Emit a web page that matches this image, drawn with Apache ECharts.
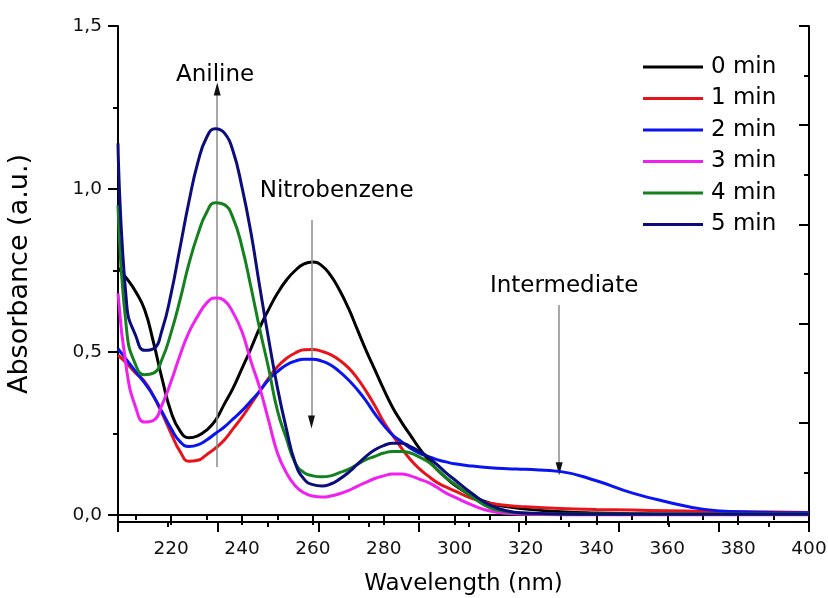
<!DOCTYPE html>
<html>
<head>
<meta charset="utf-8">
<script src="https://cdn.jsdelivr.net/npm/echarts@6/dist/echarts.min.js"></script>
<style>
  html, body { margin: 0; padding: 0; background: #fff; }
  #chart { width: 828px; height: 598px; }
</style>
</head>
<body>
<div id="chart"></div>
<script>
// wavelength grid (nm)
const wavelength = [205, 207.5, 210, 212.5, 215, 217.5, 220, 222.5, 225, 227.5,
  230, 232.5, 235, 237.5, 240, 242.5, 245, 247.5, 250, 252.5,
  255, 257.5, 260, 262.5, 265, 267.5, 270, 272.5, 275, 277.5,
  280, 282.5, 285, 287.5, 290, 292.5, 295, 297.5, 300,
  305, 310, 315, 320, 330, 340, 350, 360, 370, 380, 390, 400]

const min0 = [0.758, 0.725, 0.685, 0.63, 0.53, 0.415, 0.315, 0.258, 0.237, 0.243,
  0.26, 0.29, 0.34, 0.39, 0.45, 0.51, 0.575, 0.63, 0.68, 0.72,
  0.75, 0.77, 0.776, 0.765, 0.735, 0.69, 0.635, 0.57, 0.505, 0.445,
  0.385, 0.33, 0.285, 0.245, 0.205, 0.17, 0.14, 0.115, 0.092,
  0.058, 0.036, 0.025, 0.018, 0.01, 0.006, 0.004, 0.003, 0.003, 0.003, 0.003, 0.003]
const min1 = [0.49, 0.465, 0.435, 0.41, 0.365, 0.31, 0.25, 0.195, 0.165, 0.168,
  0.185, 0.205, 0.23, 0.265, 0.30, 0.34, 0.38, 0.42, 0.455, 0.48,
  0.497, 0.507, 0.508, 0.502, 0.492, 0.475, 0.452, 0.42, 0.38, 0.335,
  0.285, 0.245, 0.205, 0.17, 0.142, 0.12, 0.10, 0.086, 0.074,
  0.05, 0.036, 0.029, 0.025, 0.02, 0.017, 0.015, 0.013, 0.011, 0.01, 0.009, 0.008]
const min2 = [0.51, 0.475, 0.44, 0.405, 0.365, 0.315, 0.265, 0.225, 0.21, 0.215,
  0.23, 0.25, 0.27, 0.295, 0.32, 0.35, 0.38, 0.415, 0.44, 0.46,
  0.472, 0.478, 0.478, 0.472, 0.46, 0.44, 0.415, 0.385, 0.35, 0.31,
  0.275, 0.245, 0.225, 0.205, 0.19, 0.18, 0.17, 0.163, 0.157,
  0.15, 0.145, 0.142, 0.14, 0.133, 0.105, 0.068, 0.04, 0.018, 0.01, 0.008, 0.007]
const min3 = [0.68, 0.44, 0.33, 0.285, 0.29, 0.34, 0.41, 0.49, 0.56, 0.61,
  0.65, 0.666, 0.658, 0.62, 0.562, 0.472, 0.39, 0.29, 0.19, 0.13,
  0.09, 0.068, 0.058, 0.055, 0.058, 0.065, 0.075, 0.088, 0.10, 0.112,
  0.12, 0.126, 0.126, 0.12, 0.11, 0.10, 0.085, 0.068, 0.055,
  0.03, 0.012, 0.005, 0.002, 0.001, 0.001, 0.001, 0.001, 0.001, 0.001, 0.001, 0.001]
const min4 = [0.95, 0.56, 0.46, 0.43, 0.435, 0.48, 0.56, 0.66, 0.77, 0.86,
  0.928, 0.958, 0.952, 0.91, 0.822, 0.70, 0.57, 0.45, 0.32, 0.235,
  0.16, 0.13, 0.12, 0.117, 0.12, 0.13, 0.14, 0.155, 0.17, 0.18,
  0.19, 0.195, 0.195, 0.19, 0.178, 0.163, 0.14, 0.115, 0.095,
  0.055, 0.022, 0.01, 0.005, 0.003, 0.003, 0.003, 0.003, 0.003, 0.003, 0.003, 0.003]
const min5 = [1.14, 0.64, 0.55, 0.505, 0.51, 0.57, 0.68, 0.82, 0.96, 1.08,
  1.158, 1.185, 1.172, 1.115, 1.005, 0.867, 0.70, 0.54, 0.39, 0.265,
  0.16, 0.11, 0.093, 0.089, 0.095, 0.11, 0.13, 0.155, 0.18, 0.20,
  0.213, 0.22, 0.22, 0.21, 0.195, 0.178, 0.155, 0.13, 0.108,
  0.065, 0.03, 0.012, 0.006, 0.003, 0.002, 0.002, 0.002, 0.002, 0.002, 0.002, 0.002]

const seriesNames = ['0 min', '1 min', '2 min', '3 min', '4 min', '5 min']
const seriesValues = [min0, min1, min2, min3, min4, min5]
const colors = ['#000000', '#e8141c', '#0a14f0', '#f020f0', '#14801e', '#0c0c7c']

const xLabels = [220, 240, 260, 280, 300, 320, 340, 360, 380, 400]
const xMinor = [210, 230, 250, 270, 290, 310, 330, 350, 370, 390]
const yLabels = [0, 0.5, 1.0, 1.5]
const yMinor = [0.25, 0.75, 1.25]

// arrows: [wavelength, from, to]
const arrows = [[233, 0.147, 1.307], [259.6, 0.905, 0.285], [329.5, 0.644, 0.142]]
const notes = [['Aniline', 232.4, 1.35], ['Nitrobenzene', 266.7, 0.994], ['Intermediate', 330.9, 0.703]]

const font = 'DejaVu Sans'
const axisLine = { show: true, lineStyle: { color: '#000', width: 2 } }

const chart = echarts.init(document.getElementById('chart'))

const lines = seriesNames.map((name, i) => ({
  name, type: 'line', smooth: 0.5,
  showSymbol: false, symbol: 'none',
  xAxisIndex: 0, yAxisIndex: 0,
  lineStyle: { color: colors[i], width: 3 },
  itemStyle: { color: colors[i] },
  data: wavelength.map((w, k) => [w, seriesValues[i][k]]),
  z: 3 + i
}))

// gray shafts, plus a tiny dark segment at the tip that carries the arrowhead
const shafts = arrows.map(a => [{ coord: [a[0], a[1]] }, { coord: [a[0], a[2]] }])
const heads = arrows.map(a => {
  const dir = a[2] > a[1] ? 1 : -1
  return [
    { coord: [a[0], a[2] - dir * 0.01], symbol: 'none' },
    { coord: [a[0], a[2]], symbol: 'triangle', symbolSize: [7, 13] }
  ]
})

chart.setOption({
  animation: false,
  backgroundColor: '#fff',
  grid: { left: 118, right: 19, top: 26, bottom: 76, outerBoundsMode: 'none' },
  legend: {
    orient: 'vertical', left: 643, top: 55, padding: 0,
    icon: 'rect', itemWidth: 60, itemHeight: 3, itemGap: 7.5,
    data: seriesNames,
    textStyle: { fontFamily: font, fontSize: 23, lineHeight: 24, color: '#000', padding: [0, 0, 0, 3] }
  },
  xAxis: [
    {
      type: 'value', position: 'bottom', min: 205, max: 400,
      name: 'Wavelength (nm)', nameLocation: 'middle', nameGap: 51,
      nameTextStyle: { fontFamily: font, fontSize: 23, color: '#000' },
      axisLine, splitLine: { show: false },
      axisTick: { customValues: xLabels, length: 10, lineStyle: { color: '#000', width: 2 } },
      axisLabel: { customValues: xLabels, margin: 18, fontFamily: font, fontSize: 18.5, color: '#111' }
    },
    {
      type: 'value', position: 'bottom', min: 205, max: 400,
      axisLine: { show: false }, splitLine: { show: false },
      axisTick: { customValues: xMinor, length: 5, lineStyle: { color: '#000', width: 2 } },
      axisLabel: { show: false }
    },
    {
      type: 'value', position: 'top', min: 0, max: 6.9, interval: 1,
      axisLine, splitLine: { show: false },
      axisTick: { inside: true, length: 10, lineStyle: { color: '#000', width: 2 } },
      minorTick: { show: true, splitNumber: 2, length: 5, lineStyle: { color: '#000', width: 2 } },
      axisLabel: { show: false }
    }
  ],
  yAxis: [
    {
      type: 'value', position: 'left', min: -0.0215, max: 1.5,
      name: 'Absorbance (a.u.)', nameLocation: 'middle', nameGap: 85,
      nameTextStyle: { fontFamily: font, fontSize: 27, color: '#000' },
      axisLine, splitLine: { show: false },
      axisTick: { customValues: yLabels, length: 10, lineStyle: { color: '#000', width: 2 } },
      axisLabel: {
        customValues: yLabels, margin: 16, fontFamily: font, fontSize: 18.5, color: '#111',
        formatter: v => v.toFixed(1).replace('.', ',')
      }
    },
    {
      type: 'value', position: 'left', min: -0.0215, max: 1.5,
      axisLine: { show: false }, splitLine: { show: false },
      axisTick: { customValues: yMinor, length: 5, lineStyle: { color: '#000', width: 2 } },
      axisLabel: { show: false }
    },
    {
      type: 'value', position: 'right', min: 0, max: 5, interval: 1,
      axisLine, splitLine: { show: false },
      axisTick: { inside: true, length: 10, lineStyle: { color: '#000', width: 2 } },
      minorTick: { show: true, splitNumber: 2, length: 5, lineStyle: { color: '#000', width: 2 } },
      axisLabel: { show: false }
    }
  ],
  series: [
    ...lines,
    {
      name: 'shafts', type: 'line', data: [], xAxisIndex: 0, yAxisIndex: 0, silent: true,
      markLine: {
        silent: true, symbol: ['none', 'none'], animation: false,
        lineStyle: { color: '#8a8a8a', width: 1.5, type: 'solid' },
        label: { show: false },
        data: shafts
      },
      markPoint: {
        silent: true, symbol: 'circle', symbolSize: 0,
        label: { show: true, position: 'inside', fontFamily: font, fontSize: 23, color: '#000', formatter: p => p.name },
        data: notes.map(n => ({ name: n[0], coord: [n[1], n[2]] }))
      },
      z: 10
    },
    {
      name: 'heads', type: 'line', data: [], xAxisIndex: 0, yAxisIndex: 0, silent: true,
      markLine: {
        silent: true, animation: false,
        lineStyle: { color: '#111', width: 1.5, type: 'solid' },
        label: { show: false },
        data: heads
      },
      z: 11
    }
  ]
})
</script>
</body>
</html>
